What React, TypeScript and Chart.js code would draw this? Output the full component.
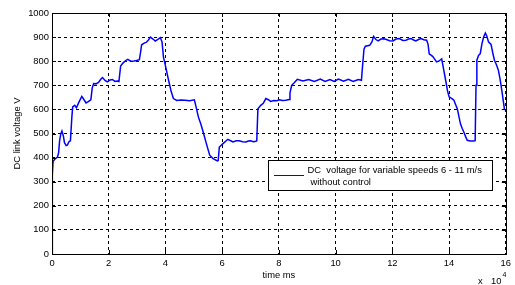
import React, { useEffect, useRef } from "react";
import { Chart, registerables } from "chart.js";

Chart.register(...registerables);

// time in units of 10^4 ms
const timeData = [
  0, 0.005, 0.02, 0.04, 0.09, 0.19, 0.23, 0.27, 0.31, 0.35, 0.4, 0.44, 0.5, 0.54, 0.6, 0.65, 0.7, 0.73, 0.8,
  0.86, 0.95, 1.05, 1.13, 1.2, 1.28, 1.37, 1.42, 1.47, 1.55, 1.64, 1.72, 1.78, 1.87, 1.95, 2.05, 2.13, 2.22,
  2.3, 2.36, 2.42, 2.5, 2.6, 2.67, 2.78, 2.89, 2.98, 3.08, 3.12, 3.16, 3.25, 3.32, 3.4, 3.47, 3.56, 3.64,
  3.72, 3.82, 3.88, 3.93, 4.02, 4.11, 4.2, 4.28, 4.4, 4.55, 4.69, 4.85, 5.02, 5.09, 5.16, 5.25, 5.33, 5.45,
  5.56, 5.68, 5.83, 5.86, 5.9, 6.03, 6.2, 6.3, 6.38, 6.5, 6.6, 6.72, 6.84, 6.92, 7.0, 7.1, 7.19, 7.22,
  7.26, 7.36, 7.45, 7.54, 7.63, 7.71, 7.82, 7.92, 8.02, 8.12, 8.24, 8.36, 8.39, 8.45, 8.55, 8.65, 8.85,
  9.05, 9.25, 9.46, 9.63, 9.8, 9.95, 10.1, 10.28, 10.45, 10.62, 10.8, 10.91, 10.95, 11.0, 11.05, 11.2, 11.28,
  11.34, 11.42, 11.5, 11.6, 11.7, 11.79, 11.9, 12.02, 12.13, 12.25, 12.37, 12.48, 12.57, 12.66, 12.75, 12.83,
  12.92, 13.01, 13.11, 13.21, 13.26, 13.3, 13.42, 13.56, 13.65, 13.74, 13.81, 13.88, 13.94, 14.0, 14.1,
  14.17, 14.23, 14.29, 14.4, 14.46, 14.52, 14.58, 14.64, 14.75, 14.87, 14.92, 14.95, 14.98, 15.04, 15.1,
  15.16, 15.22, 15.28, 15.33, 15.39, 15.48, 15.54, 15.6, 15.67, 15.74, 15.8, 15.86, 15.95, 16.0,
];

const voltageData = [
  0, 120, 330, 385, 392, 402, 418, 472, 498, 510, 490, 462, 450, 452, 466, 470, 568, 610, 617,
  607, 630, 654, 640, 627, 632, 640, 690, 707, 706, 712, 725, 732, 720, 714, 722, 724, 716,
  718, 716, 780, 792, 803, 808, 800, 801, 803, 806, 835, 868, 875, 878, 888, 900, 892, 884,
  890, 898, 880, 817, 770, 721, 675, 645, 637, 639, 638, 636, 640, 605, 569, 538, 506, 455,
  410, 396, 386, 388, 444, 458, 476, 470, 465, 470, 470, 466, 465, 469, 470, 466, 468, 470,
  603, 617, 625, 645, 640, 633, 637, 636, 640, 637, 638, 641, 668, 700, 712, 725, 718,
  724, 716, 726, 716, 724, 716, 726, 717, 725, 716, 724, 721, 780, 850, 862, 866, 880,
  903, 890, 884, 892, 893, 890, 885, 884, 892, 894, 886, 887, 892, 894, 888, 884,
  890, 894, 889, 887, 870, 831, 820, 797, 801, 810, 765, 721, 680, 652, 645,
  638, 620, 603, 541, 522, 506, 488, 472, 469, 469, 470, 700, 804, 824, 831,
  873, 900, 917, 905, 880, 870, 835, 804, 785, 762, 725, 679, 603, 595,
];

const xTickValues = [0, 2, 4, 6, 8, 10, 12, 14, 16];
const yTickValues = [0, 100, 200, 300, 400, 500, 600, 700, 800, 900, 1000];
const xTitle = "time ms";
const yTitle = "DC link voltage V";
const exponentX = "x";
const exponentBase = "10";
const exponentPower = "4";
const legendLine1 = "DC  voltage for variable speeds 6 - 11 m/s";
const legendLine2 = "without control";

const FONT = "'Liberation Sans', Arial, sans-serif";
const FS = 9.4;

const decorPlugin = {
  id: "decor",
  afterDraw(chart: any) {
    const { ctx, chartArea, scales } = chart;
    const { left, right, top, bottom } = chartArea;
    ctx.save();
    // box
    ctx.strokeStyle = "#000";
    ctx.lineWidth = 1;
    ctx.setLineDash([]);
    ctx.strokeRect(Math.round(left) + 0.5, Math.round(top) + 0.5, Math.round(right - left), Math.round(bottom - top));
    // inward ticks
    ctx.beginPath();
    const tl = 4;
    xTickValues.forEach((v) => {
      const x = Math.round(scales.x.getPixelForValue(v)) + 0.5;
      ctx.moveTo(x, bottom);
      ctx.lineTo(x, bottom - tl);
      ctx.moveTo(x, top);
      ctx.lineTo(x, top + tl);
    });
    yTickValues.forEach((v) => {
      const y = Math.round(scales.y.getPixelForValue(v)) + 0.5;
      ctx.moveTo(left, y);
      ctx.lineTo(left + tl, y);
      ctx.moveTo(right, y);
      ctx.lineTo(right - tl, y);
    });
    ctx.stroke();

    // axis titles
    ctx.fillStyle = "#000";
    ctx.font = `${FS}px ${FONT}`;
    ctx.textAlign = "center";
    ctx.textBaseline = "middle";
    ctx.fillText(xTitle, (left + right) / 2, 275);
    ctx.save();
    ctx.translate(17, (top + bottom) / 2);
    ctx.rotate(-Math.PI / 2);
    ctx.fillText(yTitle, 0, 0);
    ctx.restore();

    // exponent
    ctx.textAlign = "left";
    ctx.fillText(exponentX, 478, 281);
    ctx.textAlign = "right";
    ctx.fillText(exponentBase, 501.5, 281);
    ctx.textAlign = "left";
    ctx.font = `7px ${FONT}`;
    ctx.fillText(exponentPower, 502.5, 275);

    // legend
    ctx.font = `${FS}px ${FONT}`;
    ctx.fillStyle = "#fff";
    ctx.fillRect(268.5, 160.5, 224, 30);
    ctx.strokeStyle = "#000";
    ctx.strokeRect(268.5, 160.5, 224, 30);
    ctx.strokeStyle = "#0000ff";
    ctx.beginPath();
    ctx.moveTo(274, 175.5);
    ctx.lineTo(304, 175.5);
    ctx.stroke();
    ctx.fillStyle = "#000";
    ctx.fillText(legendLine1, 307.5, 170);
    ctx.fillText(legendLine2, 310.5, 182);
    ctx.restore();
  },
};

export default function App() {
  const ref = useRef<HTMLCanvasElement | null>(null);
  useEffect(() => {
    document.body.style.margin = "0";
    const canvas = ref.current;
    if (!canvas) return;
    const points = timeData.map((t, i) => ({ x: t, y: voltageData[i] }));
    const tickFont = { family: FONT, size: FS };
    const chart = new Chart(canvas, {
      type: "line",
      data: {
        datasets: [
          {
            label: legendLine1,
            data: points,
            borderColor: "#0000ff",
            borderWidth: 1.5,
            pointRadius: 0,
            tension: 0,
            fill: false,
          },
        ],
      },
      options: {
        responsive: false,
        animation: false,
        devicePixelRatio: 1,
        layout: { padding: { left: 0, right: 5, top: 13, bottom: 0 } },
        plugins: { legend: { display: false }, tooltip: { enabled: false } },
        scales: {
          x: {
            type: "linear",
            min: 0,
            max: 16,
            afterBuildTicks: (s: any) => {
              s.ticks = xTickValues.map((v) => ({ value: v }));
            },
            afterFit: (s: any) => {
              s.height = 31;
            },
            ticks: {
              color: "#000",
              font: tickFont,
              padding: 4,
              maxRotation: 0,
              autoSkip: false,
              callback: (v: any) => String(v),
            },
            grid: { color: "#000", lineWidth: 1, drawTicks: false },
            border: { display: false, dash: [3, 3] },
          },
          y: {
            type: "linear",
            min: 0,
            max: 1000,
            afterBuildTicks: (s: any) => {
              s.ticks = yTickValues.map((v) => ({ value: v }));
            },
            afterFit: (s: any) => {
              s.width = 52;
            },
            ticks: {
              color: "#000",
              font: tickFont,
              padding: 3,
              autoSkip: false,
              callback: (v: any) => String(v),
            },
            grid: { color: "#000", lineWidth: 1, drawTicks: false },
            border: { display: false, dash: [3, 3] },
          },
        },
      },
      plugins: [decorPlugin],
    });
    return () => chart.destroy();
  }, []);
  return (
    <div style={{ position: "absolute", left: 0, top: 0, width: 515, height: 285, background: "#fff" }}>
      <canvas ref={ref} width={515} height={285} />
    </div>
  );
}
